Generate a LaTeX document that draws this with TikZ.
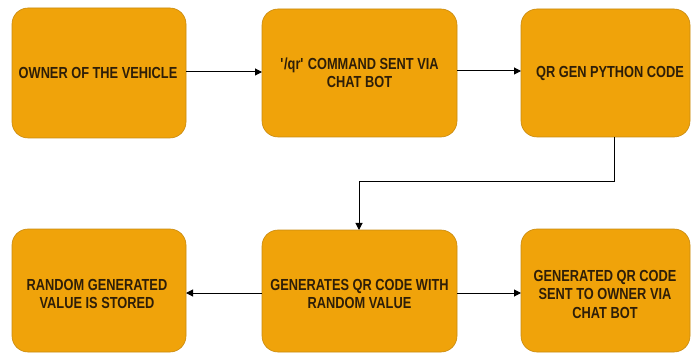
\documentclass[tikz,border=0pt]{standalone}
\usepackage{fontspec}
\setmainfont{Liberation Sans}[FakeStretch=0.8]
\usetikzlibrary{arrows.meta}
\definecolor{boxfill}{HTML}{F0A30A}
\definecolor{boxline}{HTML}{C88A10}
\definecolor{txt}{HTML}{2E1E08}
\begin{document}
\begin{tikzpicture}[x=1pt,y=-1pt,
  box/.style={draw=boxline, fill=boxfill, rounded corners=16pt, line width=0.6pt},
  lbl/.style={text=txt, font=\bfseries\fontsize{16}{18.5}\selectfont, align=center},
  conn/.style={draw=black, line width=1pt, -{Triangle[length=7pt,width=7pt]}}]
\useasboundingbox (0,0) rectangle (695,355);
% top row
\draw[box] (12,8) rectangle (186,138);
\node[lbl] (a) at (98,73) {OWNER OF THE VEHICLE};
\coordinate (aR) at (186,72);
\draw[box] (262,9) rectangle (457,137);
\node[lbl] (b) at (359.5,73) {\textquotesingle/qr\textquotesingle{} COMMAND SENT VIA\\CHAT BOT};
\coordinate (bL) at (262,72);
\coordinate (bR) at (457,71);
\draw[box] (521,9) rectangle (690,137);
\node[lbl] (c) at (610,73) {QR GEN PYTHON CODE};
\coordinate (cL) at (521,71);
\coordinate (cB) at (614,137);
% bottom row
\draw[box] (12,229) rectangle (186,352);
\node[lbl] (d) at (97,294) {RANDOM GENERATED\\VALUE IS STORED};
\coordinate (dR) at (186,293);
\draw[box] (262,230) rectangle (457,352);
\node[lbl] (e) at (359.5,294) {GENERATES QR CODE WITH\\RANDOM VALUE};
\coordinate (eL) at (262,293);
\coordinate (eR) at (457,293);
\coordinate (eT) at (359,230);
\draw[box] (521,229) rectangle (690,352);
\node[lbl] (f) at (605,294) {GENERATED QR CODE\\SENT TO OWNER VIA\\CHAT BOT};
\coordinate (fL) at (521,293);
% connectors
\draw[conn] (aR) -- (bL);
\draw[conn] (bR) -- (cL);
\draw[conn] (cB) -- (614,182) -- (359,182) -- (eT);
\draw[conn] (eL) -- (dR);
\draw[conn] (eR) -- (fL);
\end{tikzpicture}
\end{document}
